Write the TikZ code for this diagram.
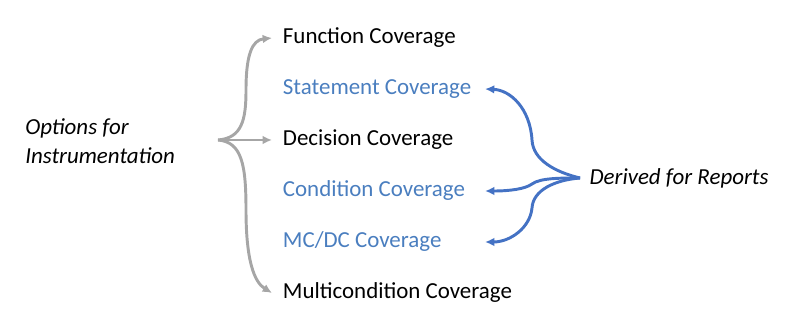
\documentclass[tikz,border=0pt]{standalone}
\usepackage{fontspec}
\setmainfont{Carlito}
\usepackage{tikz}
\usetikzlibrary{
    arrows.meta,
    calc,
    positioning
}
\definecolor{linegray}{HTML}{A6A6A6}
\definecolor{lineblue}{HTML}{4472C4}
\definecolor{textblue}{HTML}{4A7EBF}
\tikzset{
    item/.style={anchor=west, inner xsep=8pt, inner ysep=0pt,
        font=\fontsize{17.2}{21.3}\selectfont},
    blueitem/.style={item, text=textblue},
    note/.style={align=left, inner sep=0pt,
        font=\fontsize{17.2}{21.3}\selectfont\itshape},
    optarrow/.style={-{Latex[length=7pt, width=6.5pt]}, line width=2.2pt, linegray},
    reparrow/.style={-{Latex[length=7pt, width=6.5pt]}, line width=2.2pt, lineblue}
}

\begin{document}
\begin{tikzpicture}[x=0.75pt, y=-0.75pt]
    \useasboundingbox (0,0) rectangle (787,327);
    \node[item] (fun) at (272,38) {Function Coverage};
    \node[blueitem] (stm) at (272,89) {Statement Coverage};
    \node[item] (dec) at (272,140) {Decision Coverage};
    \node[blueitem] (cnd) at (272,191) {Condition Coverage};
    \node[blueitem] (mcdc) at (272,242) {MC/DC Coverage};
    \node[item] (mcc) at (272,293) {Multicondition Coverage};
    \node[note, anchor=west] (opt) at (25,141) {Options for\\Instrumentation};
    \node[item, inner xsep=7pt, font=\fontsize{17.2}{21.3}\selectfont\itshape]
        (rep) at (580,178) {Derived for Reports};
    \coordinate (split) at (218,140);
    \coordinate (tipx) at (485,0);
    % gray: instrumentation options
    \draw[optarrow] (split) .. controls (242,138) and (246,120) .. (246,90)
        .. controls (246,55) and (252,40) .. (fun.west);
    \draw[optarrow] (split) -- (dec.west);
    \draw[optarrow] (split) .. controls (242,142) and (246,165) .. (246,210)
        .. controls (246,260) and (254,282) .. (mcc.west);
    % blue: derived for reports
    \draw[reparrow] (rep.west) .. controls (555,172) and (533,160) .. (532,140)
        .. controls (530,108) and (510,90) .. (tipx |- stm);
    \draw[reparrow] (rep.west) .. controls (560,178) and (540,178) .. (532,184)
        .. controls (525,189) and (510,191) .. (tipx |- cnd);
    \draw[reparrow] (rep.west) .. controls (555,180) and (533,190) .. (532,208)
        .. controls (530,228) and (510,242) .. (tipx |- mcdc);
\end{tikzpicture}
\end{document}
